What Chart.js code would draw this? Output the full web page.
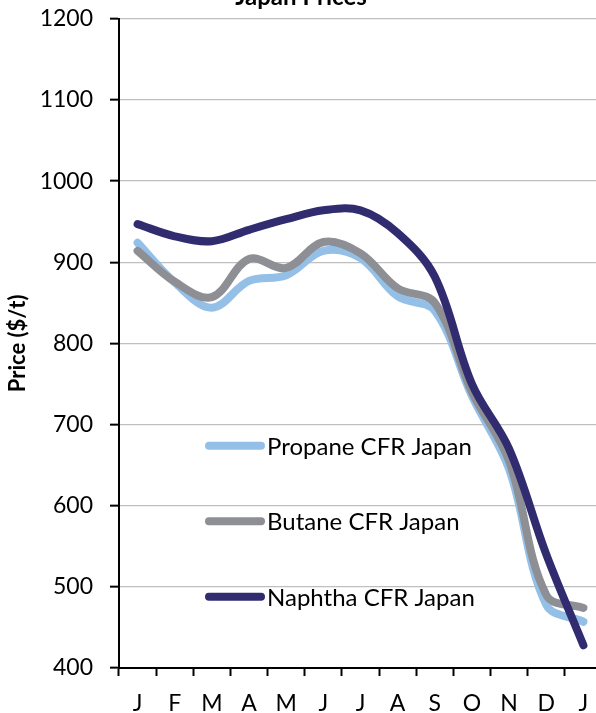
<!DOCTYPE html>
<html>
<head>
<meta charset="utf-8">
<script src="https://cdn.jsdelivr.net/npm/chart.js@4.4.1/dist/chart.umd.min.js"></script>
<style>
	html, body { margin: 0; padding: 0; background: #fff; overflow: hidden; }
	#wrap { width: 604px; height: 733px; margin-top: -20px; }
</style>
</head>
<body>
<div id="wrap"><canvas id="prices"></canvas></div>
<script>
	const months = ["J", "F", "M", "A", "M", "J", "J", "A", "S", "O", "N", "D", "J"];
	const propane = [924, 875, 844, 877, 884, 914, 905, 858, 840, 735, 645, 478, 457];
	const butane = [914, 876, 857, 904, 893, 925, 911, 868, 850, 740, 655, 490, 474];
	const naphtha = [947, 932, 926, 940, 953, 964, 964, 936, 882, 750, 670, 540, 428];
	const yTicks = [400, 500, 600, 700, 800, 900, 1000, 1100, 1200];

	Chart.defaults.color = "#000";
	Chart.defaults.font.family = "Lato";

	// legend sits inside the plot, one item per row
	const innerLegend = {
		id: "innerLegend",
		afterDatasetsDraw(chart) {
			const { ctx, chartArea } = chart;
			const x0 = chartArea.left + 86;
			let y = chartArea.top + 427;
			ctx.save();
			chart.data.datasets.forEach((ds) => {
				ctx.strokeStyle = ds.borderColor;
				ctx.lineWidth = 8;
				ctx.lineCap = "round";
				ctx.beginPath();
				ctx.moveTo(x0 + 4, y);
				ctx.lineTo(x0 + 56, y);
				ctx.stroke();
				ctx.fillStyle = "#000";
				ctx.font = "24px Lato";
				ctx.textBaseline = "middle";
				ctx.fillText(ds.label, x0 + 62, y + 1);
				y += 75.5;
			});
			ctx.restore();
		},
	};

	function line(label, data, color, order) {
		return {
			label: label,
			data: data,
			borderColor: color,
			backgroundColor: color,
			borderWidth: 8,
			borderCapStyle: "round",
			borderJoinStyle: "round",
			pointRadius: 0,
			tension: 0.36,
			fill: false,
			order: order,
		};
	}

	new Chart(document.getElementById("prices"), {
		type: "line",
		data: {
			labels: months,
			datasets: [
				line("Propane CFR Japan", propane, "#94c0e8", 3),
				line("Butane CFR Japan", butane, "#8e8f94", 2),
				line("Naphtha CFR Japan", naphtha, "#302c6f", 1),
			],
		},
		options: {
			responsive: true,
			maintainAspectRatio: false,
			animation: false,
			layout: { padding: { right: 2, left: 0, top: 0, bottom: 0 } },
			plugins: {
				legend: { display: false },
				tooltip: { enabled: false },
				title: {
					display: true,
					text: "Japan Prices",
					color: "#000",
					font: { size: 24, weight: "bold" },
					padding: { top: 3, bottom: 7 },
				},
			},
			scales: {
				x: {
					offset: true,
					border: { color: "#000", width: 2 },
					grid: {
						offset: true,
						drawOnChartArea: false,
						drawTicks: true,
						tickLength: 8,
						tickColor: "#000",
						tickWidth: 2,
					},
					ticks: {
						font: { size: 23 },
						padding: 14,
						maxRotation: 0,
						autoSkip: false,
					},
					afterFit(scale) { scale.height = 45; },
				},
				y: {
					min: 400,
					max: 1200,
					border: { color: "#000", width: 2 },
					grid: {
						color: "#bfbfbf",
						lineWidth: 1.3,
						tickLength: 9,
						tickColor: "#000",
						tickWidth: 2,
					},
					afterBuildTicks(scale) {
						scale.ticks = yTicks.map((v) => ({ value: v }));
					},
					ticks: {
						font: { size: 23 },
						padding: 17,
						callback: (v) => String(v),
					},
					title: {
						display: true,
						text: "Price ($/t)",
						font: { size: 22, weight: "bold" },
						padding: { top: 5, bottom: 0 },
					},
					afterFit(scale) { scale.width = 119; },
				},
			},
		},
		plugins: [innerLegend],
	});
</script>
</body>
</html>
